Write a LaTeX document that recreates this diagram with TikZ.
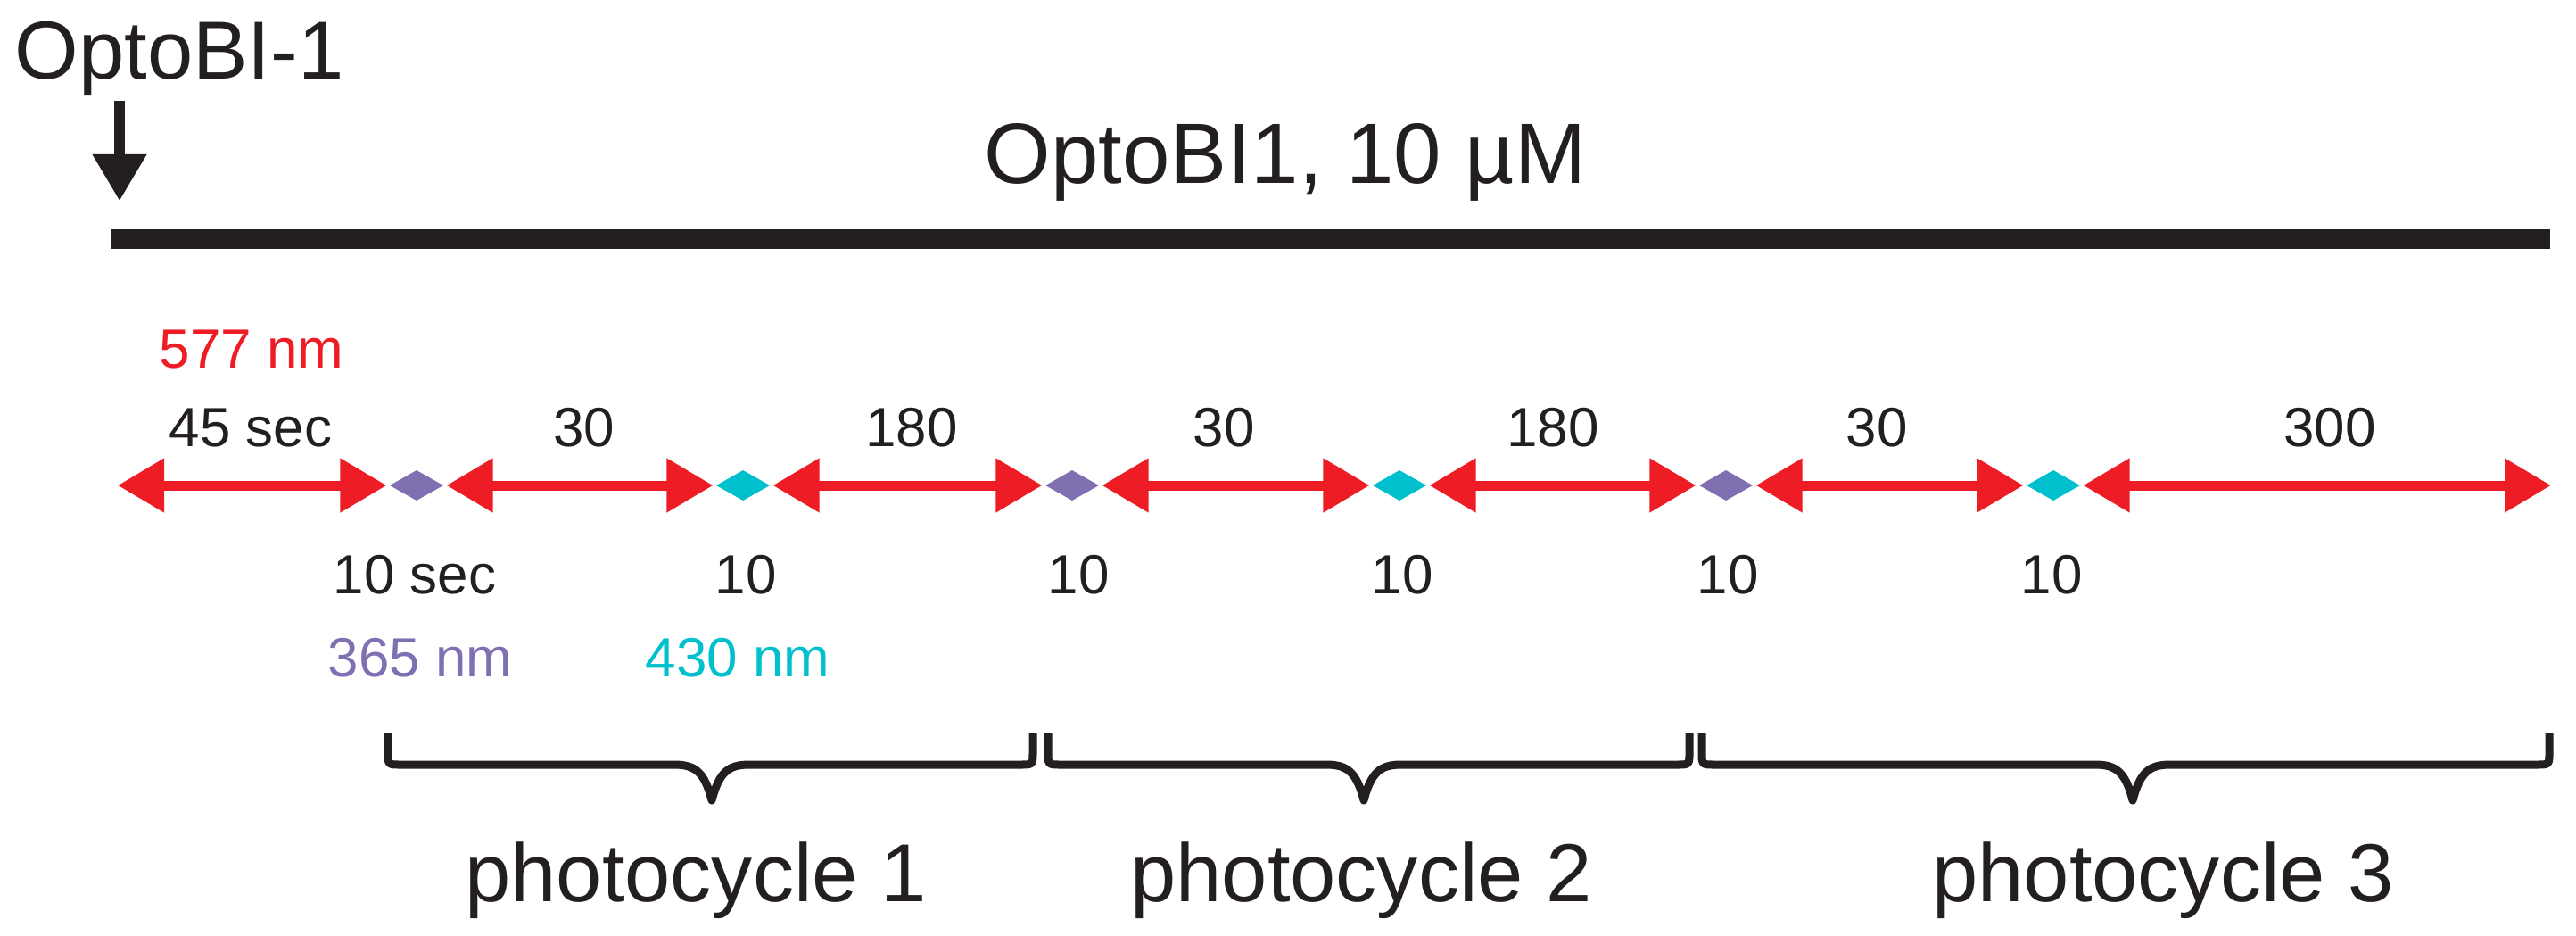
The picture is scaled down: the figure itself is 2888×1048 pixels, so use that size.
\documentclass[tikz,border=0pt]{standalone}
\usepackage{fontspec}
\setmainfont{Liberation Sans}
\usetikzlibrary{arrows.meta,shapes.geometric}
\definecolor{lred}{RGB}{238,28,37}
\definecolor{lpurple}{RGB}{128,112,178}
\definecolor{lcyan}{RGB}{0,192,205}
\definecolor{ink}{RGB}{35,31,32}
\tikzset{
 big/.style={font=\fontsize{26.2}{30}\selectfont, text=ink, inner sep=0pt, anchor=base},
 titletext/.style={font=\fontsize{27.3}{32}\selectfont, text=ink, inner sep=0pt, anchor=base},
 small/.style={font=\fontsize{17.6}{21}\selectfont, text=ink, inner sep=0pt, anchor=base},
 gem/.style={diamond, inner sep=0pt, minimum width=0.62cm, minimum height=0.36cm, outer sep=0.025cm, draw=none},
 uvgem/.style={gem, fill=lpurple},
 bluegem/.style={gem, fill=lcyan},
 lightarrow/.style={draw=lred, line width=0.11cm, {Triangle[length=0.52cm,width=0.58cm]}-{Triangle[length=0.52cm,width=0.58cm]}},
 droparrow/.style={draw=ink, line width=0.11cm, -{Triangle[length=0.52cm,width=0.58cm]}},
 bracepath/.style={draw=ink, line width=0.09cm, line join=round},
 barline/.style={draw=ink, line width=0.22cm},
}
\begin{document}
\begin{tikzpicture}[x=0.01cm, y=-0.01cm]
\useasboundingbox (0,0) rectangle (2888,1048);
% top
\node[big, anchor=base west] (drug) at (16,88) {OptoBI-1};
\coordinate (drop0) at (134,113);
\coordinate (drop1) at (134,225);
\draw[droparrow] (drop0) -- (drop1);
\node[titletext] (conc) at (1441,205) {OptoBI1, 10 µM};
\coordinate (bar0) at (125,268);
\coordinate (bar1) at (2859,268);
\draw[barline] (bar0) -- (bar1);
% diamonds
\node[uvgem] (p1) at (467,544) {};
\node[bluegem] (c1) at (833,544) {};
\node[uvgem] (p2) at (1202,544) {};
\node[bluegem] (c2) at (1569,544) {};
\node[uvgem] (p3) at (1935,544) {};
\node[bluegem] (c3) at (2302,544) {};
\coordinate (lstart) at (132,544);
\coordinate (lend) at (2860,544);
% arrows
\draw[lightarrow] (lstart) -- (p1);
\draw[lightarrow] (p1) -- (c1);
\draw[lightarrow] (c1) -- (p2);
\draw[lightarrow] (p2) -- (c2);
\draw[lightarrow] (c2) -- (p3);
\draw[lightarrow] (p3) -- (c3);
\draw[lightarrow] (c3) -- (lend);
% labels
\node[small, text=lred] (nm577) at (282,412) {577 nm};
\node[small] (t45) at (281,500) {45 sec};
\node[small] (t30a) at (655,500) {30};
\node[small] (t180a) at (1022,500) {180};
\node[small] (t30b) at (1372,500) {30};
\node[small] (t180b) at (1741,500) {180};
\node[small] (t30c) at (2104,500) {30};
\node[small] (t300) at (2612,500) {300};
\node[small] (t10a) at (465,665) {10 sec};
\node[small] (t10b) at (836,665) {10};
\node[small] (t10c) at (1209,665) {10};
\node[small] (t10d) at (1572,665) {10};
\node[small] (t10e) at (1937,665) {10};
\node[small] (t10f) at (2300,665) {10};
\node[small, text=lpurple] (nm365) at (471,758) {365 nm};
\node[small, text=lcyan] (nm430) at (827,758) {430 nm};
% braces
\foreach \L/\T/\R in {435/798/1158, 1175/1529/1894, 1908/2391/2858} {
 \draw[bracepath] (\L,822) -- (\L,843) .. controls (\L,857) .. ({\L+14},857)
   -- ({\T-42},857) .. controls ({\T-18},857) and ({\T-8},866) .. (\T,897)
   .. controls ({\T+8},866) and ({\T+18},857) .. ({\T+42},857)
   -- ({\R-14},857) .. controls (\R,857) .. (\R,843) -- (\R,822);
}
\node[big] (pc1) at (780,1010) {photocycle 1};
\node[big] (pc2) at (1526,1010) {photocycle 2};
\node[big] (pc3) at (2425,1010) {photocycle 3};
\end{tikzpicture}
\end{document}
